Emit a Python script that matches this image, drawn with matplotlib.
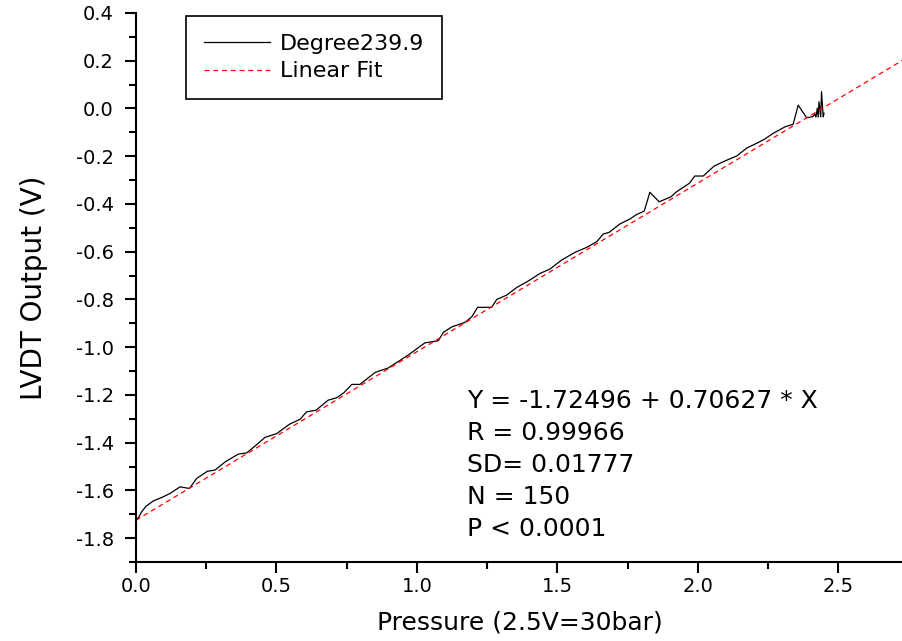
import numpy as np
import matplotlib
matplotlib.use("Agg")
import matplotlib.pyplot as plt
from matplotlib.ticker import MultipleLocator, FormatStrFormatter

# valores (Pressure, LVDT Output)
presion = [0.000, 0.010, 0.020, 0.036, 0.062, 0.091, 0.121, 0.157, 0.190, 0.216,
           0.254, 0.281, 0.317, 0.364, 0.394, 0.430, 0.459, 0.501, 0.546, 0.584,
           0.607, 0.641, 0.684, 0.714, 0.740, 0.768, 0.797, 0.851, 0.898, 0.969,
           1.028, 1.076, 1.094, 1.124, 1.171, 1.195, 1.216, 1.266, 1.284, 1.319,
           1.355, 1.396, 1.438, 1.473, 1.515, 1.562, 1.604, 1.640, 1.663, 1.684,
           1.722, 1.758, 1.782, 1.809, 1.829, 1.862, 1.904, 1.924, 1.969, 1.989,
           2.019, 2.058, 2.096, 2.138, 2.175, 2.209, 2.238, 2.268, 2.310, 2.339,
           2.357, 2.387, 2.409, 2.416, 2.420, 2.425, 2.428, 2.431, 2.437, 2.440,
           2.446, 2.449]
lvdt = [-1.725, -1.712, -1.690, -1.666, -1.644, -1.630, -1.613, -1.585, -1.592, -1.550,
        -1.520, -1.515, -1.481, -1.448, -1.443, -1.408, -1.378, -1.362, -1.323, -1.302,
        -1.271, -1.264, -1.222, -1.212, -1.191, -1.156, -1.156, -1.106, -1.087, -1.033,
        -0.982, -0.973, -0.938, -0.915, -0.896, -0.873, -0.833, -0.833, -0.800, -0.782,
        -0.750, -0.723, -0.691, -0.673, -0.635, -0.603, -0.582, -0.558, -0.526, -0.519,
        -0.484, -0.463, -0.444, -0.430, -0.351, -0.391, -0.370, -0.349, -0.314, -0.283,
        -0.283, -0.241, -0.220, -0.199, -0.165, -0.146, -0.128, -0.104, -0.077, -0.066,
        0.014, -0.039, -0.034, -0.023, -0.036, 0.001, -0.036, 0.028, -0.035, 0.070,
        -0.035, -0.020]

# parametros del ajuste lineal
intercepto = -1.72496
pendiente = 0.70627
rango_ajuste = [0.0, 2.73]

textos_ajuste = ["Y = -1.72496 + 0.70627 * X", "R = 0.99966", "SD= 0.01777",
                 "N = 150", "P < 0.0001"]

plt.rcParams['font.family'] = ['DejaVu Sans']

fig = plt.figure(figsize=(9.03, 6.41), dpi=100)
ax = fig.add_axes([136 / 903, 1 - 562 / 641, 767 / 903, 549 / 641])

x_fit = np.array(rango_ajuste)
y_fit = intercepto + pendiente * x_fit

ax.plot(presion, lvdt, color='black', linewidth=0.9, label='Degree239.9')
ax.plot(x_fit, y_fit, color='red', linewidth=0.9, linestyle=(0, (4, 3)), label='Linear Fit')

ax.set_xlim(0, 2.73)
ax.set_ylim(-1.9, 0.4)
ax.xaxis.set_major_locator(MultipleLocator(0.5))
ax.xaxis.set_minor_locator(MultipleLocator(0.25))
ax.yaxis.set_major_locator(MultipleLocator(0.2))
ax.yaxis.set_minor_locator(MultipleLocator(0.1))
ax.xaxis.set_major_formatter(FormatStrFormatter('%.1f'))
ax.yaxis.set_major_formatter(FormatStrFormatter('%.1f'))

for lado in ['top', 'right']:
    ax.spines[lado].set_visible(False)
for lado in ['left', 'bottom']:
    ax.spines[lado].set_linewidth(1.5)

ax.tick_params(which='major', direction='out', length=8, width=1.5, labelsize=14)
ax.tick_params(which='minor', direction='out', length=5, width=1.5)
ax.tick_params(axis='x', which='major', pad=3)
ax.tick_params(axis='y', which='major', pad=8)

ax.set_xlabel('Pressure (2.5V=30bar)', fontsize=18, labelpad=10)
ax.set_ylabel('LVDT Output (V)', fontsize=20, labelpad=20)

leg = ax.legend(loc='upper left', bbox_to_anchor=(0.065, 0.995), borderaxespad=0,
                fontsize=16, frameon=True, fancybox=False, edgecolor='black',
                framealpha=1, handlelength=3.0, handletextpad=0.45, borderpad=0.8,
                labelspacing=0.35)
leg.get_frame().set_linewidth(1.2)

y0 = (562 - 401) / 549
for i, t in enumerate(textos_ajuste):
    ax.text((467 - 136) / 767, y0 - i * 32 / 549, t, transform=ax.transAxes,
            fontsize=18, va='center', ha='left')

plt.savefig('out.png', dpi=100)
plt.close()
